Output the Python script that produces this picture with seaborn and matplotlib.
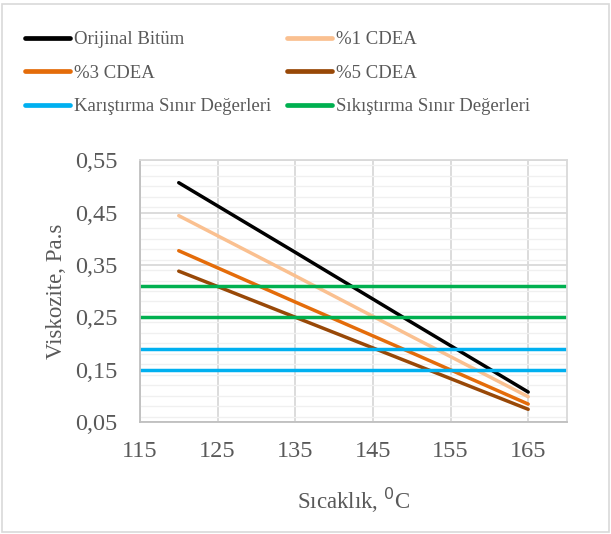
"""Viscosity vs temperature chart for bitumen with CDEA additive."""

import matplotlib
matplotlib.use("Agg")
import matplotlib.pyplot as plt
import numpy as np
import pandas as pd
import seaborn as sns
from matplotlib.patches import Rectangle
from matplotlib.ticker import FixedLocator, FuncFormatter, MultipleLocator

# data
temperature = [120, 135, 150, 165]
orijinal = [0.507, 0.374, 0.240, 0.107]
cdea_1 = [0.444, 0.329, 0.213, 0.098]
cdea_3 = [0.377, 0.279, 0.182, 0.084]
cdea_5 = [0.338, 0.250, 0.162, 0.074]
karistirma_limits = [0.15, 0.19]
sikistirma_limits = [0.25, 0.31]

series_names = ["Orijinal Bitüm", "%1 CDEA", "%3 CDEA", "%5 CDEA"]
series_colors = ["#000000", "#FAC090", "#E46C0A", "#984807"]
x_ticks = [115, 125, 135, 145, 155, 165]
y_ticks = [0.05, 0.15, 0.25, 0.35, 0.45, 0.55]

df = pd.DataFrame({
    "Sıcaklık": temperature * 4,
    "Viskozite": orijinal + cdea_1 + cdea_3 + cdea_5,
    "Seri": [name for name in series_names for _ in temperature],
})

sns.set_theme(style="white")
plt.rcParams["font.family"] = ["Liberation Serif", "DejaVu Serif"]
text_color = "#595959"

fig = plt.figure(figsize=(6.11, 5.34), dpi=100)
ax = fig.add_axes([0.229, 0.210, 0.699, 0.490])

# grid first so lines sit on top
ax.yaxis.set_minor_locator(MultipleLocator(0.02))
ax.grid(which="minor", axis="y", color="#f0f0f0", linewidth=1.0)
ax.grid(which="major", axis="both", color="#d9d9d9", linewidth=1.3)
ax.set_axisbelow(True)

sns.lineplot(
    data=df, x="Sıcaklık", y="Viskozite", hue="Seri",
    hue_order=series_names, palette=series_colors,
    linewidth=2.5, ax=ax, legend=False,
)
for line in ax.lines:
    line.set_solid_capstyle("round")

for val in karistirma_limits:
    ax.axhline(val, color="#00B0F0", linewidth=2.5)
for val in sikistirma_limits:
    ax.axhline(val, color="#00B050", linewidth=2.5)

ax.set_xlim(115, 170)
ax.set_ylim(0.05, 0.55)
ax.xaxis.set_major_locator(FixedLocator(x_ticks))
ax.yaxis.set_major_locator(FixedLocator(y_ticks))
ax.yaxis.set_major_formatter(FuncFormatter(lambda v, _: f"{v:.2f}".replace(".", ",")))
ax.tick_params(axis="both", which="both", length=0, labelsize=17.5, colors=text_color)
ax.tick_params(axis="y", pad=16)
ax.tick_params(axis="x", pad=14)

for side in ["left", "bottom"]:
    ax.spines[side].set_color("#bfbfbf")
    ax.spines[side].set_linewidth(1.3)
for side in ["top", "right"]:
    ax.spines[side].set_color("#d9d9d9")
    ax.spines[side].set_linewidth(1.3)

ax.set_xlabel("Sıcaklık, $^{0}$C", fontsize=16.5, color=text_color, labelpad=17)
ax.set_ylabel("Viskozite, Pa.s", fontsize=16.5, color=text_color, labelpad=6)

# legend, column-first order to match rows of the reference
def handle(color):
    return plt.Line2D([], [], color=color, lw=3.4, solid_capstyle="round")

h = {
    "Orijinal Bitüm": handle(series_colors[0]),
    "%1 CDEA": handle(series_colors[1]),
    "%3 CDEA": handle(series_colors[2]),
    "%5 CDEA": handle(series_colors[3]),
    "Karıştırma Sınır Değerleri": handle("#00B0F0"),
    "Sıkıştırma Sınır Değerleri": handle("#00B050"),
}
order = ["Orijinal Bitüm", "%3 CDEA", "Karıştırma Sınır Değerleri",
         "%1 CDEA", "%5 CDEA", "Sıkıştırma Sınır Değerleri"]
leg = fig.legend(
    [h[k] for k in order], order, ncol=2, loc="upper left",
    bbox_to_anchor=(0.041, 0.942), frameon=False, fontsize=13.5,
    handlelength=2.4, handletextpad=0.2, columnspacing=0.85,
    labelspacing=0.88, borderpad=0, borderaxespad=0,
)
for t in leg.get_texts():
    t.set_color(text_color)

# light border around the whole chart
fig.patches.append(Rectangle((0.004, 0.004), 0.992, 0.989, transform=fig.transFigure,
                             fill=False, edgecolor="#d9d9d9", linewidth=1.2))

fig.savefig("out.png", dpi=100)
